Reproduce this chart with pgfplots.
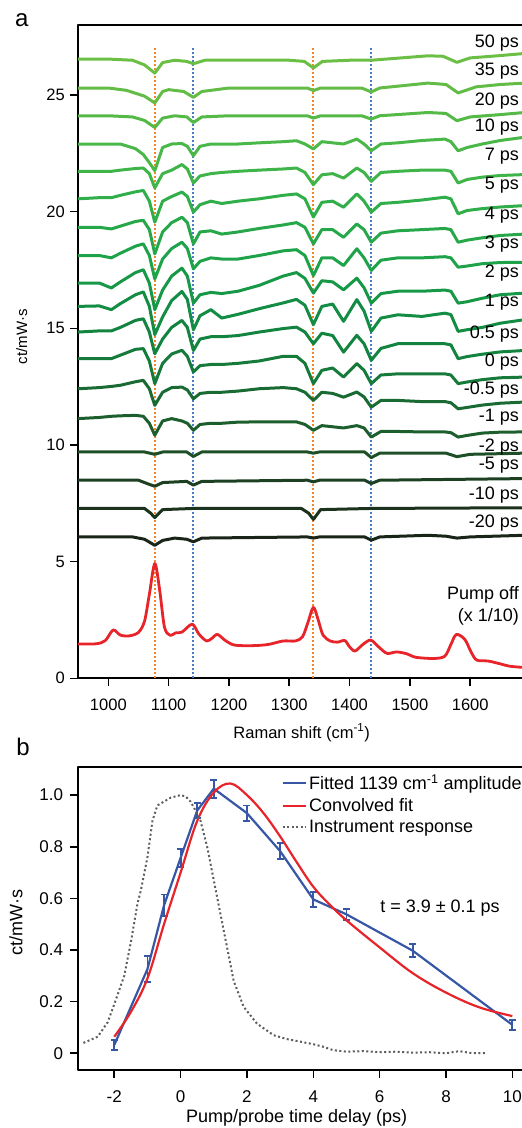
\documentclass[border=0pt]{standalone}
\usepackage{fontspec}
\setmainfont{Liberation Sans}
\usepackage{pgfplots}
\pgfplotsset{compat=1.18}
\usepackage{pgfplotstable}

\definecolor{c50}{HTML}{6CBF45}
\definecolor{c35}{HTML}{63BC46}
\definecolor{c20}{HTML}{55B947}
\definecolor{c10}{HTML}{4AB848}
\definecolor{c7}{HTML}{3FB449}
\definecolor{c5}{HTML}{30AE4A}
\definecolor{c4}{HTML}{26A84A}
\definecolor{c3}{HTML}{1EA34A}
\definecolor{c2}{HTML}{179847}
\definecolor{c1}{HTML}{138C44}
\definecolor{c05}{HTML}{12843F}
\definecolor{c0}{HTML}{157A3A}
\definecolor{cm05}{HTML}{1A6B33}
\definecolor{cm1}{HTML}{1D5E2D}
\definecolor{cm2}{HTML}{1E4F27}
\definecolor{cm5}{HTML}{1D4022}
\definecolor{cm10}{HTML}{1B331C}
\definecolor{cm20}{HTML}{182518}
\definecolor{orgline}{HTML}{F3862A}
\definecolor{bluline}{HTML}{4A7BC8}
\definecolor{redspec}{HTML}{E8242B}
\definecolor{fitblue}{HTML}{3757A6}
\definecolor{fitred}{HTML}{E6242A}
\definecolor{irfgray}{HTML}{5E5E5E}

\pgfplotstableread{
wn   p10   p7    p5    p4    p3    p2    p1    p05   p0    m05   m1
950  22.90 21.73 20.55 19.33 18.12 16.94 15.94 14.84 13.70 12.41 11.13
985  22.90 21.73 20.60 19.33 18.12 16.94 15.96 14.89 13.70 12.46 11.18
1005 22.90 21.73 20.60 19.26 18.02 16.73 15.80 14.89 13.70 12.51 11.23
1020 22.90 21.78 20.70 19.38 18.22 16.99 16.06 15.04 13.85 12.56 11.25
1045 22.70 21.85 20.85 19.58 18.52 17.39 16.44 15.34 14.10 12.71 11.27
1058 22.45 21.87 20.91 19.63 18.62 17.51 16.56 15.41 14.13 12.77 11.23
1068 22.10 21.63 20.45 19.23 18.12 16.94 15.94 14.84 13.60 12.41 10.93
1077 21.76 21.02 19.55 18.19 17.12 15.80 14.73 13.91 12.63 11.70 10.42
1090 22.75 21.63 20.45 19.13 17.97 16.64 15.49 14.54 13.50 12.26 11.03
1105 22.90 21.78 20.65 19.53 18.42 17.24 16.19 15.04 13.90 12.46 11.13
1122 22.92 22.02 20.84 19.76 18.69 17.58 16.58 15.34 14.06 12.48 11.03
1131 22.80 21.83 20.65 19.53 18.42 17.24 16.24 15.04 13.80 12.36 10.93
1141 22.40 21.23 19.98 18.62 17.55 16.08 14.94 14.05 13.13 11.98 10.63
1152 22.80 21.53 20.30 19.13 17.87 16.44 15.54 14.54 13.40 12.21 10.88
1170 22.90 21.63 20.45 19.18 18.02 16.54 15.80 14.64 13.45 12.26 10.93
1188 22.90 21.68 20.35 19.04 17.97 16.49 15.44 14.64 13.45 12.26 10.93
1215 22.90 21.73 20.45 19.13 17.97 16.59 15.60 14.69 13.50 12.31 10.98
1250 22.95 21.78 20.55 19.28 18.12 16.84 15.84 14.84 13.60 12.41 10.99
1290 23.00 21.83 20.70 19.43 18.32 17.24 16.09 14.99 13.80 12.46 10.99
1312 23.04 21.87 20.76 19.53 18.37 17.39 16.24 15.05 13.80 12.41 10.99
1326 22.90 21.68 20.55 19.33 18.12 17.14 15.99 14.84 13.50 12.26 10.88
1340 22.69 21.16 19.77 18.62 17.26 16.51 15.16 14.34 12.63 11.91 10.63
1354 23.00 21.58 20.40 19.23 18.02 17.04 15.94 14.79 13.20 12.26 10.83
1372 22.95 21.63 20.45 19.23 18.02 16.99 16.04 14.69 13.30 12.21 10.78
1390 22.90 21.44 20.19 18.90 17.69 16.65 15.30 13.98 12.91 12.05 10.73
1412 23.11 21.87 20.76 19.47 18.41 17.15 16.23 14.70 13.49 12.27 10.83
1424 22.90 21.68 20.45 19.23 18.02 16.74 15.74 14.34 13.20 12.06 10.73
1436 22.61 21.30 19.98 18.69 17.48 16.08 14.87 13.63 12.63 11.62 10.34
1452 22.90 21.68 20.35 19.08 17.92 16.49 15.44 14.14 13.00 11.91 10.58
1480 22.95 21.73 20.40 19.18 18.02 16.59 15.58 14.34 13.05 11.91 10.58
1520 23.05 21.78 20.50 19.23 18.02 16.59 15.51 14.34 13.05 11.86 10.56
1558 23.11 21.78 20.62 19.28 18.07 16.64 15.65 14.34 13.05 11.86 10.56
1568 23.00 21.73 20.55 19.23 18.02 16.59 15.59 14.29 13.00 11.81 10.53
1580 22.61 21.23 19.91 18.69 17.62 16.08 14.87 13.70 12.63 11.55 10.34
1595 22.75 21.38 20.05 18.78 17.67 16.14 14.94 13.79 12.70 11.61 10.41
1620 22.90 21.48 20.13 18.88 17.77 16.29 15.04 13.89 12.80 11.71 10.51
1650 23.05 21.55 20.20 18.98 17.82 16.44 15.22 13.99 12.88 11.79 10.55
1690 23.19 21.59 20.26 19.04 17.83 16.51 15.37 14.05 12.91 11.84 10.56
}\spectra

\begin{document}
\begin{tikzpicture}[font=\fontsize{16.5}{19}\selectfont]
\useasboundingbox (0,0) rectangle (522pt,-1128pt);
\node[font=\fontsize{24}{28}\selectfont] at (21.7pt,-20pt) {a};
\node[font=\fontsize{24}{28}\selectfont] at (23pt,-747pt) {b};

\begin{axis}[
  at={(78.2pt,-25pt)}, anchor=north west,
  scale only axis, width=452.3pt, height=653.3pt,
  xmin=950, xmax=1700, ymin=0, ymax=28,
  clip mode=individual,
  xtick={1000,1100,1200,1300,1400,1500,1600},
  xticklabels={1000,1100,1200,1300,1400,1500,1600},
  ytick={0,5,10,15,20,25},
  yticklabels={0,5,10,15,20,25},
  xtick pos=left, ytick pos=left, tick align=outside,
  major tick length=8pt,
  every tick/.style={black, line width=1.6pt},
  axis line style={line width=1.8pt},
  tick label style={font=\fontsize{16.5}{19}\selectfont, inner sep=0pt},
  xticklabel shift=12.7pt,
  yticklabel shift=5.2pt,
  line join=round,
]
% reference lines
\addplot[orgline, line width=2.2pt, dash pattern=on 2pt off 2pt] coordinates {(1077,0) (1077,27)};
\addplot[bluline, line width=2.2pt, dash pattern=on 2pt off 2pt] coordinates {(1140,0) (1140,27)};
\addplot[orgline, line width=2.2pt, dash pattern=on 2pt off 2pt] coordinates {(1340,0) (1340,27)};
\addplot[bluline, line width=2.2pt, dash pattern=on 2pt off 2pt] coordinates {(1435,0) (1435,27)};

% 50 ps
\addplot[c50, line width=3pt] coordinates {(950,26.54) (1000,26.54) (1040,26.49) (1060,26.29) (1077,25.94) (1090,26.39) (1110,26.49) (1130,26.44) (1141,26.34) (1160,26.49) (1300,26.49) (1325,26.44) (1340,26.16) (1355,26.44) (1400,26.49) (1436,26.49) (1530,26.68) (1555,26.66) (1578,26.40) (1600,26.59) (1650,26.69) (1690,26.78)};
% 35 ps
\addplot[c35, line width=3pt] coordinates {(950,25.30) (1000,25.30) (1030,25.20) (1060,24.95) (1077,24.66) (1090,25.15) (1100,25.23) (1125,25.15) (1141,24.90) (1155,25.15) (1200,25.30) (1330,25.30) (1340,25.19) (1352,25.30) (1420,25.30) (1436,25.13) (1450,25.30) (1530,25.51) (1560,25.45) (1580,25.09) (1610,25.35) (1650,25.45) (1690,25.51)};
% 20 ps
\addplot[c20, line width=3pt] coordinates {(950,24.11) (1000,24.11) (1040,24.06) (1060,23.91) (1077,23.61) (1090,24.01) (1110,24.11) (1130,24.06) (1141,23.82) (1155,24.06) (1200,24.11) (1330,24.11) (1340,24.01) (1352,24.11) (1420,24.11) (1436,23.97) (1450,24.11) (1530,24.25) (1560,24.21) (1578,23.90) (1600,24.06) (1650,24.16) (1690,24.25)};
\addplot[c10, line width=3pt] table[x=wn,y=p10] {\spectra};
\addplot[c7, line width=3pt] table[x=wn,y=p7] {\spectra};
\addplot[c5, line width=3pt] table[x=wn,y=p5] {\spectra};
\addplot[c4, line width=3pt] table[x=wn,y=p4] {\spectra};
\addplot[c3, line width=3pt] table[x=wn,y=p3] {\spectra};
\addplot[c2, line width=3pt] table[x=wn,y=p2] {\spectra};
\addplot[c1, line width=3pt] table[x=wn,y=p1] {\spectra};
\addplot[c05, line width=3pt] table[x=wn,y=p05] {\spectra};
\addplot[c0, line width=3pt] table[x=wn,y=p0] {\spectra};
\addplot[cm05, line width=3pt] table[x=wn,y=m05] {\spectra};
\addplot[cm1, line width=3pt] table[x=wn,y=m1] {\spectra};
% -2 ps
\addplot[cm2, line width=3pt] coordinates {(950,9.70) (1060,9.70) (1077,9.60) (1090,9.70) (1130,9.70) (1141,9.51) (1155,9.70) (1330,9.70) (1340,9.65) (1350,9.70) (1425,9.70) (1436,9.46) (1450,9.65) (1560,9.65) (1578,9.50) (1600,9.60) (1690,9.65)};
% -5 ps
\addplot[cm5, line width=3pt] coordinates {(950,8.49) (1050,8.49) (1065,8.34) (1077,8.23) (1090,8.39) (1130,8.44) (1141,8.28) (1155,8.44) (1330,8.49) (1340,8.42) (1350,8.49) (1425,8.49) (1436,8.35) (1450,8.49) (1690,8.56)};
% -10 ps
\addplot[cm10, line width=3pt] coordinates {(950,7.28) (1060,7.28) (1070,7.08) (1077,6.89) (1090,7.23) (1140,7.28) (1320,7.28) (1332,7.08) (1340,6.81) (1352,7.23) (1436,7.28) (1690,7.31)};
% -20 ps
\addplot[cm20, line width=3pt] coordinates {(950,6.06) (1040,6.06) (1060,5.96) (1077,5.70) (1090,5.91) (1110,6.01) (1130,5.96) (1141,5.85) (1155,6.01) (1330,6.06) (1340,6.01) (1350,6.06) (1425,6.06) (1436,5.92) (1450,6.06) (1530,6.13) (1560,6.09) (1578,6.01) (1600,6.06) (1690,6.13)};
% pump off
\addplot[redspec, line width=2.8pt, smooth, tension=0.5] coordinates {(950,1.47) (980,1.48) (995,1.62) (1008,2.07) (1020,1.85) (1035,1.82) (1050,1.97) (1060,2.45) (1068,3.6) (1077,4.92) (1085,3.8) (1093,2.2) (1102,1.85) (1112,1.95) (1122,1.98) (1139,2.32) (1150,1.9) (1163,1.6) (1172,1.72) (1181,1.88) (1195,1.6) (1210,1.42) (1240,1.4) (1265,1.45) (1290,1.6) (1310,1.6) (1322,1.78) (1331,2.4) (1340,3.04) (1348,2.5) (1356,1.85) (1368,1.6) (1380,1.55) (1392,1.62) (1400,1.35) (1409,1.17) (1422,1.45) (1435,1.64) (1448,1.35) (1462,1.07) (1478,1.13) (1495,1.05) (1510,0.9) (1540,0.85) (1558,0.95) (1568,1.45) (1577,1.88) (1591,1.67) (1602,1.1) (1611,0.78) (1630,0.74) (1650,0.62) (1665,0.52) (1686,0.47)};

\begin{scope}[every node/.style={anchor=east, inner sep=0pt, font=\fontsize{18}{21}\selectfont}]
\node at (axis cs:1681,27.21) {50 ps};
\node at (axis cs:1681,26.01) {35 ps};
\node at (axis cs:1681,24.76) {20 ps};
\node at (axis cs:1681,23.61) {10 ps};
\node at (axis cs:1681,22.36) {7 ps};
\node at (axis cs:1681,21.12) {5 ps};
\node at (axis cs:1681,19.84) {4 ps};
\node at (axis cs:1681,18.62) {3 ps};
\node at (axis cs:1681,17.36) {2 ps};
\node at (axis cs:1681,16.12) {1 ps};
\node at (axis cs:1681,14.77) {0.5 ps};
\node at (axis cs:1681,13.55) {0 ps};
\node at (axis cs:1681,12.34) {-0.5 ps};
\node at (axis cs:1681,11.20) {-1 ps};
\node at (axis cs:1681,9.92) {-2 ps};
\node at (axis cs:1681,9.13) {-5 ps};
\node at (axis cs:1681,7.85) {-10 ps};
\node at (axis cs:1681,6.66) {-20 ps};
\node at (axis cs:1681,3.57) {Pump off};
\node at (axis cs:1681,2.64) {(x 1/10)};
\end{scope}
\node[anchor=center, inner sep=0pt, font=\fontsize{16.5}{19}\selectfont] at (axis description cs:0.494,-0.0833) {Raman shift (cm\textsuperscript{-1})};
\node[anchor=center, inner sep=0pt, rotate=90, font=\fontsize{15}{18}\selectfont] at (axis description cs:-0.125,0.523) {ct/mW·s};
\end{axis}

\begin{axis}[
  at={(77.8pt,-766.7pt)}, anchor=north west,
  scale only axis, width=451.1pt, height=303.3pt,
  xmin=-3.1, xmax=10.5, ymin=-0.065, ymax=1.11,
  clip mode=individual,
  xtick={-2,0,2,4,6,8,10}, xticklabels={-2,0,2,4,6,8,10},
  ytick={0,0.2,0.4,0.6,0.8,1}, yticklabels={0,0.2,0.4,0.6,0.8,1.0},
  xtick pos=left, ytick pos=left, tick align=outside,
  major tick length=8pt,
  every tick/.style={black, line width=1.6pt},
  axis line style={line width=1.8pt},
  tick label style={font=\fontsize{17}{20}\selectfont, inner sep=0pt},
  xticklabel shift=12.6pt,
  yticklabel shift=6.5pt,
  legend style={draw=none, fill=none, at={(0.452,0.98)}, anchor=north west, font=\fontsize{18}{21}\selectfont, inner sep=0pt, row sep=3pt},
  legend cell align=left,
  legend image code/.code={\draw[#1] (0pt,0pt) -- (23pt,0pt);},
  line join=round,
]
\addplot[fitblue, line width=2.2pt, mark=none,
  error bars/.cd, y dir=both, y explicit,
  error bar style={line width=1.8pt},
  error mark options={line width=1.8pt, mark size=3.5pt, rotate=90}]
  coordinates {
  (-2,0.032) +- (0,0.02)
  (-1,0.326) +- (0,0.05)
  (-0.5,0.573) +- (0,0.042)
  (0,0.757) +- (0,0.035)
  (0.5,0.94) +- (0,0.03)
  (1,1.025) +- (0,0.035)
  (2,0.93) +- (0,0.03)
  (3,0.783) +- (0,0.03)
  (4,0.596) +- (0,0.03)
  (5,0.538) +- (0,0.022)
  (7,0.397) +- (0,0.025)
  (10,0.11) +- (0,0.02)
  };
\addlegendentry{Fitted 1139 cm\textsuperscript{-1} amplitude}
\addplot[fitred, line width=2.2pt, smooth, tension=0.6] coordinates {(-2,0.064) (-1.5,0.16) (-1,0.29) (-0.5,0.50) (0,0.70) (0.5,0.90) (1,1.01) (1.5,1.045) (2,1.0) (2.5,0.93) (3,0.84) (3.5,0.74) (4,0.645) (4.5,0.575) (5,0.515) (6,0.41) (7,0.31) (8,0.235) (9,0.178) (10,0.144)};
\addlegendentry{Convolved fit}
\addplot[irfgray, line width=2pt, dash pattern=on 2pt off 2.5pt] coordinates {(-2.93,0.04) (-2.5,0.064) (-2.2,0.12) (-2.0,0.19) (-1.7,0.30) (-1.5,0.43) (-1.3,0.58) (-1.2,0.63) (-1.0,0.76) (-0.85,0.90) (-0.7,0.96) (-0.5,0.975) (-0.3,0.99) (0,1.0) (0.15,0.995) (0.3,0.975) (0.45,0.94) (0.6,0.90) (0.8,0.80) (1.0,0.67) (1.2,0.54) (1.4,0.41) (1.6,0.28) (1.9,0.18) (2.3,0.115) (2.8,0.07) (3.2,0.055) (3.6,0.045) (4.0,0.035) (4.3,0.025) (4.6,0.012) (5.0,0.006) (5.5,0.008) (6.0,0.004) (6.5,0.006) (7.0,0.002) (7.5,0.004) (8.0,0.0) (8.4,0.008) (8.8,0.0) (9.2,0.0)};
\addlegendentry{Instrument response}
\node[anchor=center, font=\fontsize{18}{21}\selectfont] at (axis cs:7.82,0.561) {t = 3.9 ± 0.1 ps};
\node[anchor=center, inner sep=0pt, font=\fontsize{18}{21}\selectfont] at (axis description cs:0.485,-0.159) {Pump/probe time delay (ps)};
\node[anchor=center, inner sep=0pt, rotate=90, font=\fontsize{18}{21}\selectfont] at (axis description cs:-0.137,0.485) {ct/mW·s};
\end{axis}
\end{tikzpicture}
\end{document}
